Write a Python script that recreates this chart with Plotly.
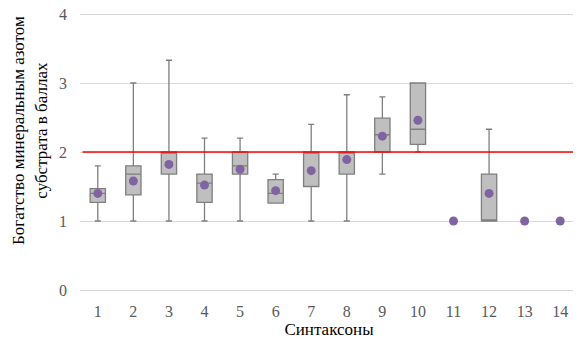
import plotly.graph_objects as go

categories = [1, 2, 3, 4, 5, 6, 7, 8, 9, 10, 11, 12, 13, 14]
q1 =          [1.27, 1.38, 1.68, 1.27, 1.68, 1.26, 1.50, 1.68, 2.00, 2.11, None, 1.00, None, None]
median =      [1.40, 1.68, 2.00, 1.55, 1.80, 1.40, 2.00, 2.00, 2.25, 2.33, None, 1.00, None, None]
q3 =          [1.47, 1.80, 2.00, 1.68, 2.00, 1.60, 2.00, 2.00, 2.49, 3.00, None, 1.68, None, None]
lower_fence = [1.00, 1.00, 1.00, 1.00, 1.00, 1.26, 1.00, 1.00, 1.68, 2.00, None, 1.00, None, None]
upper_fence = [1.80, 3.00, 3.33, 2.20, 2.20, 1.68, 2.40, 2.83, 2.80, 3.00, None, 2.33, None, None]
means =       [1.40, 1.58, 1.82, 1.52, 1.75, 1.44, 1.73, 1.89, 2.23, 2.46, 1.00, 1.40, 1.00, 1.00]
threshold = 2.0

idx = [i for i in range(len(categories)) if q1[i] is not None]

FONT = "Liberation Serif"

fig = go.Figure()
fig.add_trace(go.Box(
    x=[categories[i] for i in idx],
    q1=[q1[i] for i in idx],
    median=[median[i] for i in idx],
    q3=[q3[i] for i in idx],
    lowerfence=[lower_fence[i] for i in idx],
    upperfence=[upper_fence[i] for i in idx],
    width=0.43,
    whiskerwidth=0.4,
    fillcolor="#BFBFBF",
    line=dict(color="#7F7F7F", width=1.3),
    boxpoints=False,
    showlegend=False,
    hoverinfo="skip",
))
fig.add_trace(go.Scatter(
    x=categories, y=means, mode="markers",
    marker=dict(color="#8064A2", size=9),
    showlegend=False,
))
fig.add_shape(type="line", xref="paper", yref="y", x0=0.005, x1=1.005,
              y0=threshold, y1=threshold, line=dict(color="#FF0000", width=1.3))

fig.add_annotation(
    text="Богатство минеральным азотом<br>субстрата в баллах",
    xref="paper", yref="paper", x=-0.100, y=0.576, xanchor="center", yanchor="middle",
    textangle=-90, showarrow=False, font=dict(family=FONT, size=17, color="#000000"),
)

fig.update_layout(
    width=573, height=339,
    margin=dict(l=72, r=3, t=4, b=55, autoexpand=False),
    paper_bgcolor="white", plot_bgcolor="white",
    font=dict(family=FONT),
    xaxis=dict(
        range=[0.5, 14.5], tickmode="array", tickvals=categories,
        ticktext=[str(c) for c in categories],
        showgrid=False, zeroline=False, showline=False, automargin=False,
        tickfont=dict(family=FONT, size=16, color="#595959"),
        ticklabeloverflow="allow", ticklabelstandoff=8,
        title=dict(text="Синтаксоны", font=dict(family=FONT, size=17, color="#000000"), standoff=2),
    ),
    yaxis=dict(
        range=[-0.029, 4.029], tickvals=[0, 1, 2, 3, 4], showgrid=True, gridcolor="#D9D9D9", gridwidth=1,
        zeroline=False, showline=False, automargin=False,
        tickfont=dict(family=FONT, size=16, color="#595959"),
        ticklabelstandoff=12, ticklabeloverflow="allow",
    ),
)

fig.write_html("out.html")
